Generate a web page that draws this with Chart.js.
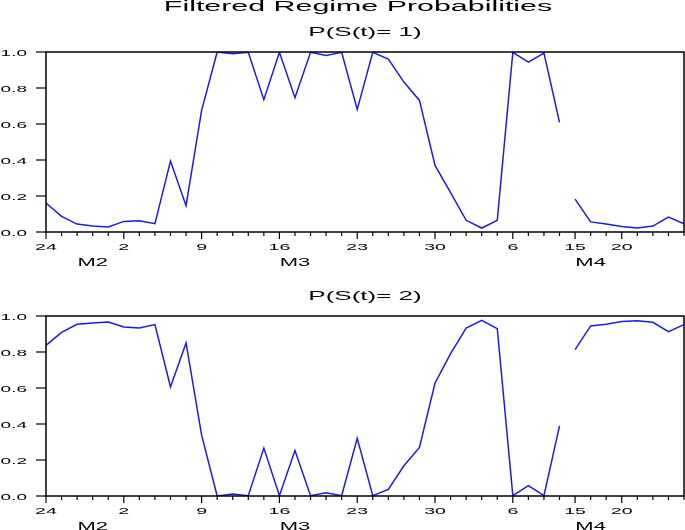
<!DOCTYPE html>
<html>
<head>
<meta charset="utf-8">
<script src="https://cdn.jsdelivr.net/npm/chart.js@4"></script>
<style>
html,body{margin:0;padding:0;background:#fff;overflow:hidden}
#wrap{position:relative;width:685px;height:530px}
.panel{position:absolute;left:0;width:685px}
#p1{top:0;height:272px}
#p2{top:264px;height:266px}
</style>
</head>
<body>
<div id="wrap">
  <div class="panel" id="p1"><canvas id="c1"></canvas></div>
  <div class="panel" id="p2"><canvas id="c2"></canvas></div>
</div>
<script>
/* DATA */
const dates = [
  "2020-02-24","2020-02-25","2020-02-26","2020-02-27","2020-02-28",
  "2020-03-02","2020-03-03","2020-03-04","2020-03-05","2020-03-06",
  "2020-03-09","2020-03-10","2020-03-11","2020-03-12","2020-03-13",
  "2020-03-16","2020-03-17","2020-03-18","2020-03-19","2020-03-20",
  "2020-03-23","2020-03-24","2020-03-25","2020-03-26","2020-03-27",
  "2020-03-30","2020-03-31","2020-04-01","2020-04-02","2020-04-03",
  "2020-04-06","2020-04-07","2020-04-08","2020-04-09",
  "2020-04-15","2020-04-16","2020-04-17",
  "2020-04-20","2020-04-21","2020-04-22","2020-04-23","2020-04-24"
];
const probRegime1 = [
  0.161,0.087,0.044,0.033,0.028,
  0.059,0.063,0.046,0.394,0.146,
  0.676,1.000,0.990,0.998,0.735,
  0.998,0.746,0.998,0.981,0.998,
  0.681,0.998,0.961,0.833,0.731,
  0.370,0.219,0.065,0.022,0.065,
  0.998,0.944,0.994,0.609,
  0.183,0.056,0.044,
  0.030,0.022,0.033,0.083,0.046
];
const probRegime2 = [
  0.837,0.909,0.954,0.961,0.967,
  0.939,0.933,0.952,0.606,0.850,
  0.338,0.000,0.011,0.002,0.266,
  0.002,0.253,0.002,0.018,0.002,
  0.320,0.002,0.037,0.168,0.270,
  0.628,0.791,0.933,0.976,0.930,
  0.002,0.057,0.002,0.390,
  0.813,0.945,0.954,
  0.970,0.974,0.965,0.913,0.952
];
const tickDates = ["2020-02-24","2020-03-02","2020-03-09","2020-03-16","2020-03-23","2020-03-30","2020-04-06","2020-04-15","2020-04-20"];
const monthNames = ["M2","M3","M4"];
const monthAt = ["2020-02-27","2020-03-17","2020-04-16"];

const BLUE = "rgb(28,28,225)";
const FONT = "'Liberation Sans', Arial, sans-serif";
const SX = 2; // text in the source is drawn wide

function isBreak(i0,i1){
  return (Date.parse(dates[i1]) - Date.parse(dates[i0])) / 864e5 > 3;
}

function wideText(ctx,text,x,y,size,align){
  ctx.save();
  ctx.font = size+"px "+FONT;
  ctx.textAlign = align;
  ctx.textBaseline = "alphabetic";
  ctx.fillStyle = "#000";
  ctx.translate(x,y);
  ctx.scale(SX,1);
  ctx.fillText(text,0,0);
  ctx.restore();
}

/* frame, ticks and labels drawn eviews style */
const framePlugin = {
  id:"frame",
  afterDraw(chart,args,opts){
    const ctx = chart.ctx;
    const {left,right,top,bottom} = chart.chartArea;
    const xs = chart.scales.x, ys = chart.scales.y;
    ctx.save();
    ctx.strokeStyle = "#000";
    ctx.lineWidth = 1.5;
    ctx.strokeRect(left,top,right-left,bottom-top);

    ctx.lineWidth = 1.2;
    ys.ticks.forEach(t=>{
      const yy = ys.getPixelForValue(t.value);
      ctx.beginPath(); ctx.moveTo(left-10,yy); ctx.lineTo(left,yy); ctx.stroke();
      wideText(ctx,t.value.toFixed(1),27,yy+3.5,9.5,"right");
    });

    dates.forEach((d,i)=>{
      const xx = xs.getPixelForValue(i);
      const major = tickDates.includes(d);
      ctx.beginPath(); ctx.moveTo(xx,bottom); ctx.lineTo(xx,bottom+(major?7:4)); ctx.stroke();
    });
    tickDates.forEach(d=>{
      const xx = xs.getPixelForValue(dates.indexOf(d));
      wideText(ctx,String(parseInt(d.slice(8),10)),xx,bottom+17.5,9.8,"center");
    });
    monthNames.forEach((m,k)=>{
      const xx = xs.getPixelForValue(dates.indexOf(monthAt[k]));
      wideText(ctx,m,xx,bottom+33.5,11,"center");
    });

    wideText(ctx,opts.subtitle,(left+right)/2,top-16,13,"center");
    if(opts.title) wideText(ctx,opts.title,358,11,15.2,"center");
    ctx.restore();
  }
};

function makePanel(id,values,subtitle,title){
  return new Chart(document.getElementById(id),{
    type:"line",
    data:{
      labels:dates,
      datasets:[{
        data:values,
        borderColor:BLUE,
        borderWidth:1.5,
        pointRadius:0,
        tension:0,
        fill:false,
        segment:{borderColor:c=>isBreak(c.p0DataIndex,c.p1DataIndex)?"rgba(0,0,0,0)":BLUE}
      }]
    },
    options:{
      responsive:true,
      maintainAspectRatio:false,
      animation:false,
      layout:{padding:{top:52,right:1,left:0,bottom:0}},
      plugins:{
        legend:{display:false},
        tooltip:{enabled:false},
        frame:{subtitle:subtitle,title:title}
      },
      scales:{
        x:{
          offset:false,
          ticks:{display:false},
          grid:{display:false},
          border:{display:false},
          afterFit:s=>{s.height = s.chart.height-232;}
        },
        y:{
          min:0,max:1,
          ticks:{display:false,stepSize:0.2},
          grid:{display:false},
          border:{display:false},
          afterFit:s=>{s.width = 46;}
        }
      }
    },
    plugins:[framePlugin]
  });
}

makePanel("c1",probRegime1,"P(S(t)= 1)","Filtered Regime Probabilities");
makePanel("c2",probRegime2,"P(S(t)= 2)",null);
</script>
</body>
</html>
